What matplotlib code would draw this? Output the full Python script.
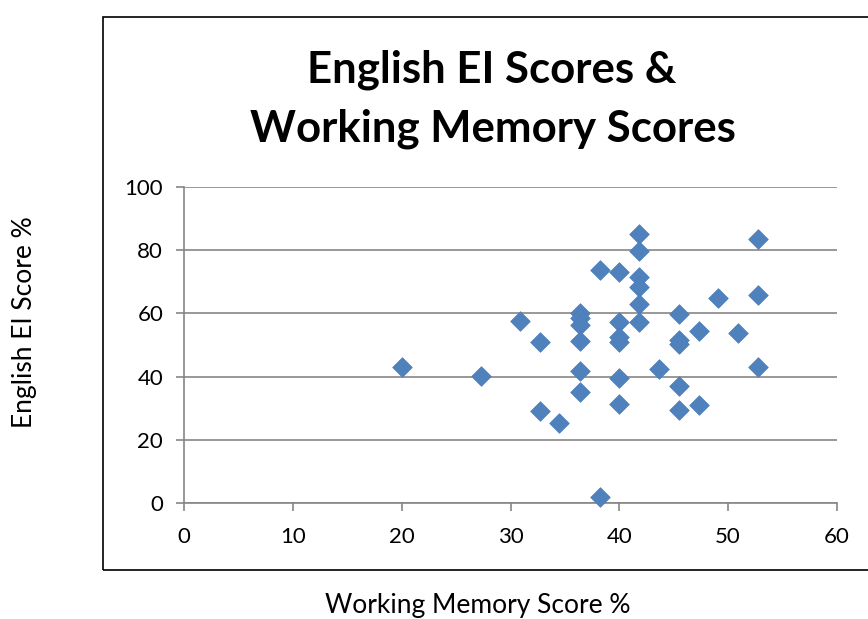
import matplotlib.pyplot as plt
from matplotlib.patches import Rectangle

plt.rcParams['font.family'] = ['Lato', 'DejaVu Sans']

# working memory score % (x) and English EI score % (y)
wm_score = [20.0, 27.3, 30.9, 32.7, 32.7, 34.5,
            36.4, 36.4, 36.4, 36.4, 36.4, 36.4,
            38.2, 38.2,
            40.0, 40.0, 40.0, 40.0, 40.0, 40.0,
            41.8, 41.8, 41.8, 41.8, 41.8, 41.8,
            43.6,
            45.5, 45.5, 45.5, 45.5, 45.5,
            47.3, 47.3, 49.1, 50.9,
            52.7, 52.7, 52.7]
ei_score = [42.9, 40.3, 57.6, 50.9, 29.2, 25.4,
            60.2, 58.4, 56.3, 51.4, 41.9, 35.2,
            73.7, 2.0,
            73.2, 57.2, 52.6, 50.9, 39.7, 31.2,
            85.1, 79.9, 71.6, 68.5, 62.9, 57.4,
            42.5,
            59.8, 51.6, 50.3, 37.1, 29.4,
            54.5, 31.0, 65.0, 53.9,
            83.4, 65.7, 43.0]

title_lines = ['English EI Scores &', 'Working Memory Scores']
x_label = 'Working Memory Score %'
y_label = 'English EI Score %'

fig = plt.figure(figsize=(8.68, 6.19), dpi=100)

# chart frame
fig.patches.append(Rectangle((103 / 868, 1 - 570 / 619), 1.0, 553 / 619,
                             transform=fig.transFigure, fill=False,
                             edgecolor='black', linewidth=1.2))

ax = fig.add_axes([184 / 868, 1 - 503 / 619, 653 / 868, 316 / 619])
ax.scatter(wm_score, ei_score, marker='D', s=100, color='#4F81BD',
           edgecolors='#4A7EBB', linewidths=0.5, zorder=3, clip_on=False)

ax.set_xlim(0, 60)
ax.set_ylim(0, 100)
ax.set_xticks(range(0, 61, 10))
ax.set_yticks(range(0, 101, 20))
ax.grid(axis='y', color='#868686', linewidth=1.2)
ax.set_axisbelow(True)
for side in ['top', 'right']:
    ax.spines[side].set_visible(False)
for side in ['left', 'bottom']:
    ax.spines[side].set_color('#868686')
    ax.spines[side].set_linewidth(1.2)
ax.tick_params(direction='out', length=6, width=1.2, color='#868686',
               labelsize=16)
ax.tick_params(axis='y', pad=9)
ax.tick_params(axis='x', pad=11)

# title, two lines
fig.text(492 / 868, 1 - 70 / 619, title_lines[0], ha='center', va='center',
         fontsize=31.5, fontweight='bold')
fig.text(493 / 868, 1 - 129 / 619, title_lines[1], ha='center', va='center',
         fontsize=31.5, fontweight='bold')
fig.text(478 / 868, 1 - 605 / 619, x_label, ha='center', va='center', fontsize=19)
fig.text(25 / 868, 1 - 322 / 619, y_label, ha='center', va='center',
         rotation=90, fontsize=19)

fig.savefig('out.png', dpi=100)
